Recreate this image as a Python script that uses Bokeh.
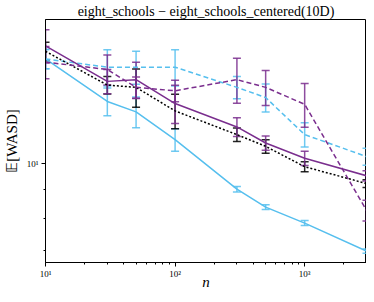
from bokeh.plotting import figure
from bokeh.models import ColumnDataSource, Whisker, TeeHead, FixedTicker
from bokeh.embed import file_html
from bokeh.resources import INLINE

n = [10, 30, 50, 100, 300, 500, 1000, 3000]

blue_solid = [15.37, 12.91, 12.37, 11.04, 9.01, 8.37, 7.84, 6.99]
blue_solid_err = [0.6, 0.73, 0.78, 0.51, 0.1, 0.08, 0.08, 0.06]

blue_dashed = [15.37, 14.86, 14.86, 14.86, 13.68, 13.12, 11.27, 10.30]
blue_dashed_err = [0.6, 1.1, 1.0, 1.1, 0.63, 0.75, 0.56, 0.36]

purple_solid = [16.22, 14.02, 14.12, 12.80, 11.63, 10.89, 10.23, 9.52]
purple_solid_err = [1.1, 0.7, 1.05, 1.0, 0.45, 0.32, 0.3, 0.2]

purple_dashed = [15.17, 14.72, 13.68, 13.49, 14.12, 13.68, 12.76, 8.26]
purple_dashed_err = [1.0, 0.9, 0.6, 0.6, 1.3, 0.98, 1.14, 0.35]

black_dotted = [15.86, 13.81, 13.68, 12.42, 11.27, 10.74, 9.88, 9.22]
black_dotted_err = [0.6, 0.5, 1.07, 0.88, 0.31, 0.3, 0.2, 0.15]

x_major = [10, 100, 1000]
x_minor = [20, 30, 40, 50, 60, 70, 80, 90, 200, 300, 400, 500, 600, 700, 800, 900, 2000, 3000]
x_labels = {10: "10¹", 100: "10²", 1000: "10³"}
y_major = [10]
y_minor = [7, 8, 9]
y_labels = {10: "10¹"}

title = "eight_schools − eight_schools_centered(10D)"
x_title = "n"
y_title = "𝔼[WASD]"

BLUE = "#56BFEE"
PURPLE = "#7A2E8E"
SERIF = "Liberation Serif"
Y_LO, Y_HI = 6.67, 18.07

p = figure(width=366, height=292, x_axis_type="log", y_axis_type="log",
           x_range=(10, 3000), y_range=(Y_LO, Y_HI),
           output_backend="svg", toolbar_location=None,
           min_border_left=36, min_border_right=0, min_border_top=0, min_border_bottom=0)

p.title.text = title
p.title.align = "center"
p.title.text_font = SERIF
p.title.text_font_style = "normal"
p.title.text_font_size = "14px"
p.title.text_color = "black"
p.title.standoff = 2

p.xgrid.visible = False
p.ygrid.visible = False
p.outline_line_color = "black"
p.outline_line_width = 1
p.outline_line_alpha = 1

p.xaxis.ticker = FixedTicker(ticks=x_major, minor_ticks=x_minor)
p.yaxis.ticker = FixedTicker(ticks=y_major, minor_ticks=y_minor)
p.xaxis.major_label_overrides = x_labels
p.yaxis.major_label_overrides = y_labels

for ax in (p.xaxis, p.yaxis):
    ax.major_tick_in = 0
    ax.major_tick_out = 4
    ax.minor_tick_in = 0
    ax.minor_tick_out = 2
    ax.axis_line_color = "black"
    ax.major_tick_line_color = "black"
    ax.minor_tick_line_color = "black"
    ax.major_label_text_font = SERIF
    ax.major_label_text_font_size = "9px"
    ax.major_label_text_color = "black"
    ax.axis_label_text_font = SERIF
    ax.axis_label_text_font_size = "15px"
    ax.axis_label_text_font_style = "normal"
    ax.axis_label_text_color = "black"

p.xaxis.axis_label = x_title
p.xaxis.axis_label_text_font_style = "italic"
p.xaxis.axis_label_standoff = -8
p.xaxis.major_label_standoff = 2
p.yaxis.axis_label = y_title
p.yaxis.axis_label_standoff = 4
p.yaxis.major_label_standoff = 3


def add_series(vals, errs, color, dash):
    lower = [v - e for v, e in zip(vals, errs)]
    upper = [v + e for v, e in zip(vals, errs)]
    src = ColumnDataSource(dict(x=n, y=vals, lower=lower, upper=upper))
    p.line("x", "y", source=src, line_color=color, line_width=1.5, line_dash=dash)
    w = Whisker(source=src, base="x", lower="lower", upper="upper", dimension="height",
                line_color=color, line_width=1.5, line_alpha=0.85,
                upper_head=TeeHead(size=8, line_color=color, line_width=1.5, line_alpha=0.85),
                lower_head=TeeHead(size=8, line_color=color, line_width=1.5, line_alpha=0.85))
    p.add_layout(w)


add_series(blue_solid, blue_solid_err, BLUE, "solid")
add_series(blue_dashed, blue_dashed_err, BLUE, "5 3")
add_series(black_dotted, black_dotted_err, "black", "2 2")
add_series(purple_solid, purple_solid_err, PURPLE, "solid")
add_series(purple_dashed, purple_dashed_err, PURPLE, "5 3")

open("out.html", "w").write(file_html(p, INLINE))
